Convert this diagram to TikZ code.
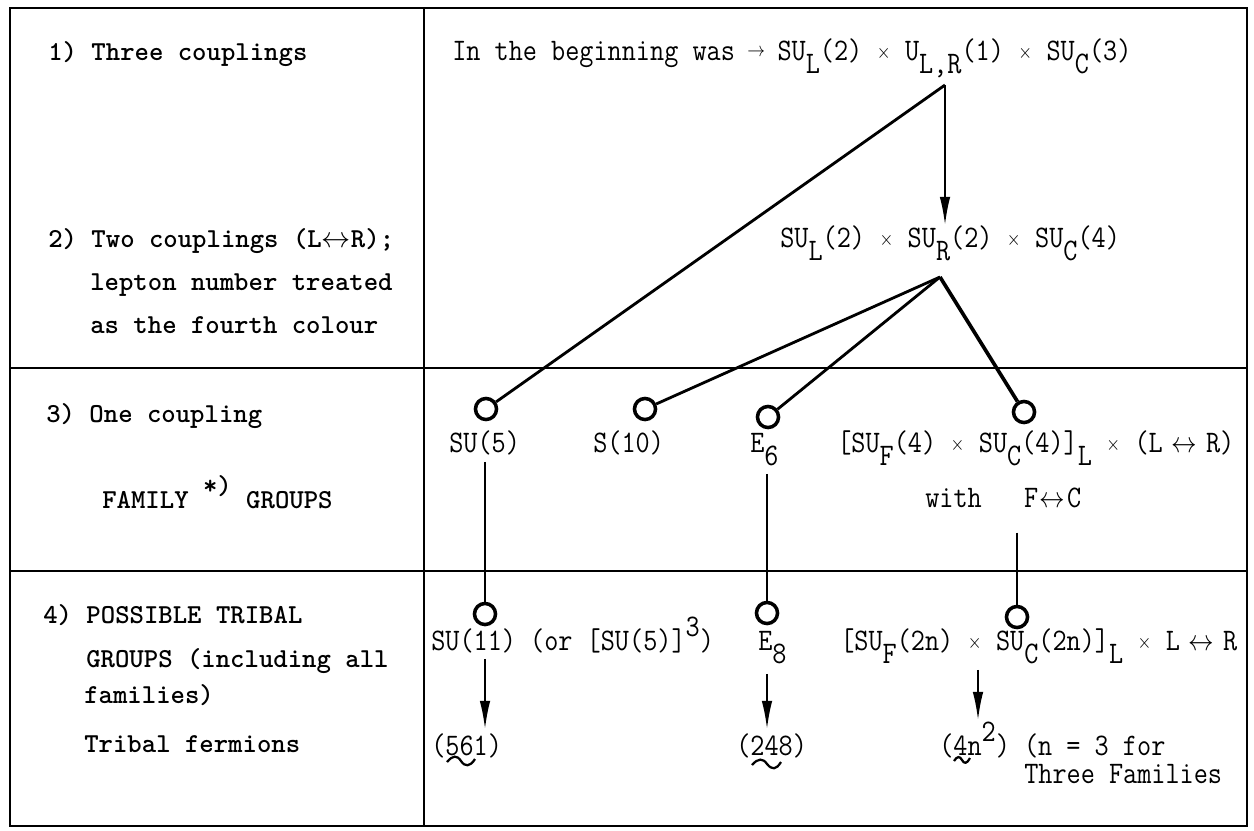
\documentclass[tikz,border=0pt]{standalone}
\usepackage{fontspec}
\usepackage{graphicx}
\usetikzlibrary{arrows.meta,calc}
\newcommand\lftfont{\ttfamily\bfseries\fontsize{19.5}{23}\selectfont}
\newcommand\rtx[1]{\scalebox{0.875}[1]{\ttfamily\fontsize{22.3}{26}\selectfont #1}}
\newcommand\lowr[1]{\raisebox{-0.42em}{#1}}
\newcommand\raisr[1]{\raisebox{0.42em}{#1}}
\newcommand\cx[1]{\makebox[0.525em]{#1}}
\newcommand\cxx[1]{\makebox[1.05em]{#1}}
\newcommand\cxxx[1]{\makebox[1.575em]{#1}}
\newcommand\arr{\cx{\raisebox{0.1em}{$\scriptstyle\rightarrow$}}}
\newcommand\tms{\cx{\raisebox{0.05em}{$\scriptstyle\times$}}}
\newcommand\lr{\cxxx{$\leftrightarrow$}}
\newcommand\lrs{\cxx{$\leftrightarrow$}}
\tikzset{
  lt/.style={anchor=base west, inner sep=0pt, font=\lftfont},
  rt/.style={anchor=base west, inner sep=0pt},
  ring/.style={circle, draw, line width=2.5pt, minimum size=15pt, inner sep=0pt},
  frame/.style={line width=1.5pt},
  thinarrow/.style={line width=1.3pt, -{Latex[length=20pt,width=7.5pt]}},
  link/.style={line width=2pt},
  vline/.style={line width=1.5pt},
  tld/.style={line width=1.6pt},
}
\begin{document}
\begin{tikzpicture}[x=0.025cm,y=-0.025cm]
\useasboundingbox (0,0) rectangle (1254,830);
% frame
\draw[frame] (10,8) rectangle (1247,826);
\draw[frame] (10,368) -- (1247,368);
\draw[frame] (10,571) -- (1247,571);
\draw[frame] (424,8) -- (424,826);
% left column
\node[lt] (l1) at (48,60) {1) Three couplings};
\node[lt] (l2a) at (48,247) {2) Two couplings (L$\leftrightarrow$R);};
\node[lt] (l2b) at (90,290) {lepton number treated};
\node[lt] (l2c) at (90,333) {as the fourth colour};
\node[lt] (l3a) at (46,422) {3) One coupling};
\node[lt] (l3b) at (102,508) {FAMILY \raisebox{0.5em}{*)} GROUPS};
\node[lt] (l4a) at (43,623) {4) POSSIBLE TRIBAL};
\node[lt] (l4b) at (86,667) {GROUPS (including all};
\node[lt] (l4c) at (84,703) {families)};
\node[lt] (l4d) at (84,752) {Tribal fermions};
% right column
\node[rt] (top) at (452,60) {\rtx{In the beginning was \arr\ SU\lowr{L}(2) \tms\ U\lowr{L,R}(1) \tms\ SU\lowr{C}(3)}};
\node[rt] (mid) at (780,247) {\rtx{SU\lowr{L}(2) \tms\ SU\lowr{R}(2) \tms\ SU\lowr{C}(4)}};
\coordinate (A) at (945,85);
\coordinate (B) at (940,277);
% row 3
\node[ring] (c5) at (486,409) {};
\node[ring] (c10) at (645,409) {};
\node[ring] (c6) at (768,417) {};
\node[ring] (cF) at (1024,412) {};
\node[rt] (su5) at (449,452) {\rtx{SU(5)}};
\node[rt] (s10) at (593,452) {\rtx{S(10)}};
\node[rt] (e6) at (750,452) {\rtx{E\lowr{6}}};
\node[rt] (suf4) at (837,452) {\rtx{[SU\lowr{F}(4) \tms\ SU\lowr{C}(4)]\lowr{L} \tms\ (L\lr R)}};
\node[rt] (with) at (925,507) {\rtx{with\ \ \ F\lrs C}};
% row 4
\node[ring] (c11) at (485,614) {};
\node[ring] (c8) at (767,613) {};
\node[ring] (cT) at (1017,617) {};
\node[rt] (su11) at (431,650) {\rtx{SU(11) (or [SU(5)]\raisr{3})}};
\node[rt] (e8) at (758,650) {\rtx{E\lowr{8}}};
\node[rt] (suf2n) at (840,650) {\rtx{[SU\lowr{F}(2n) \tms\ SU\lowr{C}(2n)]\lowr{L} \tms\ L\lr R}};
\node[rt] (n561) at (431,755) {\rtx{(561)}};
\node[rt] (n248) at (736,755) {\rtx{(248)}};
\node[rt] (n4n) at (939,755) {\rtx{(4n\raisr{2}) (n = 3 for}};
\node[rt] (n3f) at (1024,783) {\rtx{Three Families}};
% connectors
\draw[link] (A) -- (c5);
\draw[thinarrow] (A) -- (A |- mid.north);
\draw[link] (B) -- (c10);
\draw[link] (B) -- (c6);
\draw[link, line width=2.6pt] (B) -- (cF);
\draw[vline] ($(c11 |- su5.south)+(0,7)$) -- (c11);
\draw[vline] ($(c8 |- e6.south)+(0,8)$) -- (c8);
\draw[vline] ($(cT |- with.south)+(0,25)$) -- (cT);
\coordinate (xr) at (978,0);
\draw[thinarrow] ($(c11 |- su11.south)+(0,6)$) -- ($(c11 |- n561.north)+(0,-4)$);
\draw[thinarrow] ($(c8 |- e8.south)+(0,10)$) -- ($(c8 |- n248.north)+(0,-4)$);
\draw[thinarrow] ($(xr |- suf2n.south)+(0,6)$) -- ($(xr |- n4n.north)+(0,-2)$);
% tildes
\draw[tld] (447,762) .. controls (453,755) and (457,755) .. (461,761) .. controls (465,767) and (470,767) .. (475,759);
\draw[tld] (752,765) .. controls (758,758) and (763,758) .. (767,764) .. controls (772,770) and (776,770) .. (781,762);
\draw[tld] (954,761) .. controls (957,756) and (960,756) .. (962,760) .. controls (964,764) and (967,764) .. (970,758);
\end{tikzpicture}
\end{document}
